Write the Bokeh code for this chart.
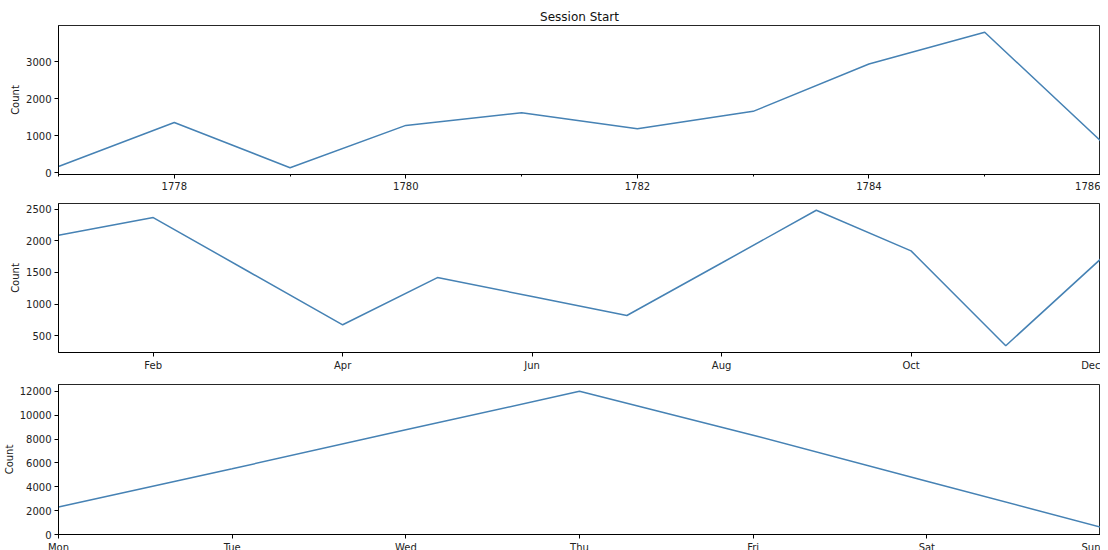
from bokeh.plotting import figure
from bokeh.layouts import column
from bokeh.models import Range1d, FixedTicker, Title
from bokeh.embed import file_html
from bokeh.resources import INLINE

# ---- data ----
years = [1777, 1778, 1779, 1780, 1781, 1782, 1783, 1784, 1785, 1786]
year_counts = [170, 1360, 135, 1280, 1620, 1190, 1660, 2940, 3800, 865]
year_ticks = [1778, 1780, 1782, 1784, 1786]
year_minor = [1777, 1779, 1781, 1783, 1785]

months = ["Jan", "Feb", "Mar", "Apr", "May", "Jun", "Jul", "Aug", "Sep", "Oct", "Nov", "Dec"]
month_counts = [2090, 2368, 1520, 673, 1420, 1120, 820, 1650, 2484, 1842, 342, 1711]
month_labels = ["Feb", "Apr", "Jun", "Aug", "Oct", "Dec"]

days = ["Mon", "Tue", "Wed", "Thu", "Fri", "Sat", "Sun"]
day_counts = [2300, 5510, 8770, 12000, 8320, 4470, 616]

title_text = "Session Start"
ylabel = "Count"
LINE = "#4682b4"
FONT = "DejaVu Sans"


def padded(vals, zero=False):
    lo, hi = min(vals), max(vals)
    s = hi - lo
    return Range1d(0 if zero else lo - 0.05 * s, hi + 0.05 * s)


def make(xr, yr, yticks, top, fh=149):
    p = figure(width=1100, frame_height=fh, output_backend="svg",
               toolbar_location=None, x_range=xr, y_range=yr)
    p.xgrid.visible = False
    p.ygrid.visible = False
    p.outline_line_color = "black"
    p.outline_line_width = 1
    p.outline_line_alpha = 0.85
    for ax in (p.xaxis[0], p.yaxis[0]):
        ax.axis_line_color = "black"
        ax.axis_line_width = 1
        ax.major_tick_line_color = "black"
        ax.minor_tick_line_color = "black"
        ax.major_tick_in = 0
        ax.major_tick_out = 4
        ax.minor_tick_in = 0
        ax.minor_tick_out = 2
        ax.major_label_text_font = FONT
        ax.major_label_text_font_size = "10px"
        ax.major_label_text_color = "#222222"
        ax.major_label_standoff = 3
    p.xaxis[0].axis_label_standoff = 0
    p.yaxis[0].ticker = FixedTicker(ticks=yticks)
    p.yaxis[0].axis_label = ylabel
    p.yaxis[0].axis_label_text_font = FONT
    p.yaxis[0].axis_label_text_font_size = "10px"
    p.yaxis[0].axis_label_text_font_style = "normal"
    p.yaxis[0].axis_label_text_color = "#222222"
    p.yaxis[0].axis_label_standoff = 2
    p.min_border_left = 50
    p.min_border_right = 0
    p.min_border_top = top
    p.min_border_bottom = 0
    return p


# ---- figure 1: years ----
p1 = make(Range1d(years[0], years[-1]), padded(year_counts), [0, 1000, 2000, 3000], 0)
p1.line(years, year_counts, line_color=LINE, line_width=1.5)
p1.xaxis[0].ticker = FixedTicker(ticks=year_ticks, minor_ticks=year_minor)
main_title = Title(text=title_text, align="center", text_font=FONT,
                   text_font_size="12px", text_font_style="normal",
                   text_color="#111111", offset=0, standoff=3)
spacer = Title(text=" ", text_font_size="1px", standoff=3)
p1.add_layout(main_title, "above")
p1.add_layout(spacer, "above")

# ---- figure 2: months ----
mx = list(range(len(months)))
p2 = make(Range1d(0, len(months) - 1), padded(month_counts), [500, 1000, 1500, 2000, 2500], 11)
p2.line(mx, month_counts, line_color=LINE, line_width=1.5)
tick_pos = [months.index(m) for m in month_labels]
p2.xaxis[0].ticker = FixedTicker(ticks=tick_pos, minor_ticks=[])
p2.xaxis[0].major_label_overrides = {i: months[i] for i in tick_pos}

# ---- figure 3: days ----
dx = list(range(len(days)))
p3 = make(Range1d(0, len(days) - 1), padded(day_counts, zero=True),
          list(range(0, 12001, 2000)), 11, fh=150)
p3.line(dx, day_counts, line_color=LINE, line_width=1.5)
p3.xaxis[0].ticker = FixedTicker(ticks=dx, minor_ticks=[])
p3.xaxis[0].major_label_overrides = {i: d for i, d in enumerate(days)}

layout = column(p1, p2, p3, spacing=0)
open("out.html", "w").write(file_html(layout, INLINE))
